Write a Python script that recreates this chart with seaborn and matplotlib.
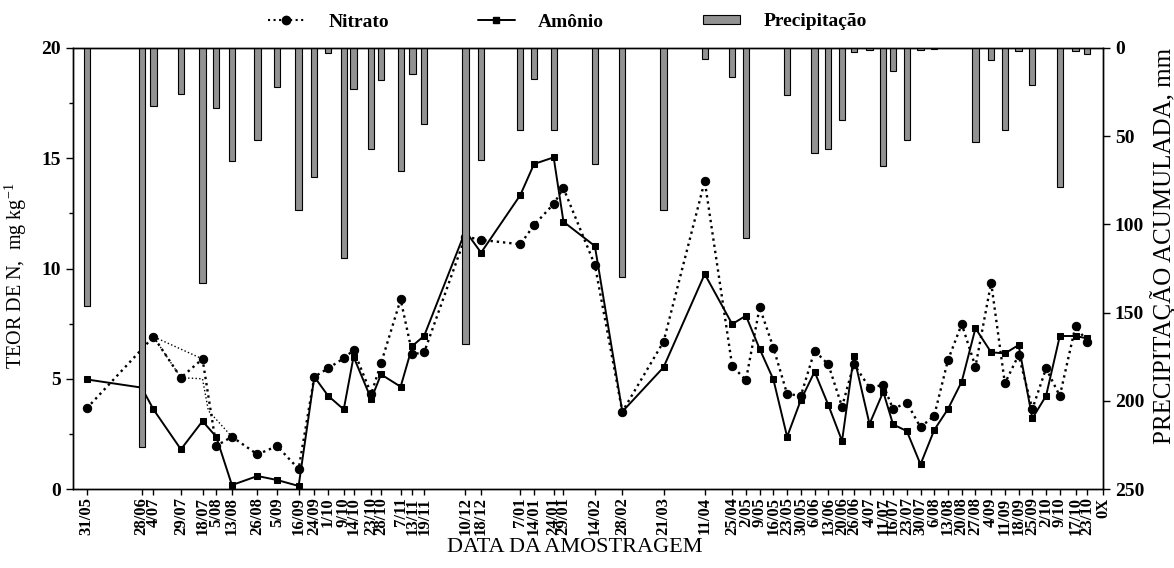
import pandas as pd
import matplotlib
matplotlib.use('Agg')
import matplotlib.pyplot as plt
from matplotlib.lines import Line2D
from matplotlib.patches import Patch
from matplotlib.ticker import MultipleLocator
import seaborn as sns

# datas de amostragem
datas = ['31/05/2006', '28/06/2006', '04/07/2006', '18/07/2006', '29/07/2006', '05/08/2006',
         '13/08/2006', '26/08/2006', '05/09/2006', '16/09/2006', '24/09/2006', '01/10/2006',
         '09/10/2006', '14/10/2006', '23/10/2006', '28/10/2006', '07/11/2006', '13/11/2006',
         '19/11/2006', '10/12/2006', '18/12/2006', '07/01/2007', '14/01/2007', '24/01/2007',
         '29/01/2007', '14/02/2007', '28/02/2007', '21/03/2007', '11/04/2007', '25/04/2007',
         '02/05/2007', '09/05/2007', '16/05/2007', '23/05/2007', '30/05/2007', '06/06/2007',
         '13/06/2007', '20/06/2007', '26/06/2007', '04/07/2007', '11/07/2007', '16/07/2007',
         '23/07/2007', '30/07/2007', '06/08/2007', '13/08/2007', '20/08/2007', '27/08/2007',
         '04/09/2007', '11/09/2007', '18/09/2007', '25/09/2007', '02/10/2007', '09/10/2007',
         '17/10/2007', '23/10/2007']

# rotulos como aparecem no grafico (29/07 e 18/07 trocados no original)
rotulos = ['31/05', '28/06', '4/07', '29/07', '18/07', '5/08', '13/08', '26/08', '5/09', '16/09',
           '24/09', '1/10', '9/10', '14/10', '23/10', '28/10', '7/11', '13/11', '19/11', '10/12',
           '18/12', '7/01', '14/01', '24/01', '29/01', '14/02', '28/02', '21/03', '11/04', '25/04',
           '2/05', '9/05', '16/05', '23/05', '30/05', '6/06', '13/06', '20/06', '26/06', '4/07',
           '11/07', '16/07', '23/07', '30/07', '6/08', '13/08', '20/08', '27/08', '4/09', '11/09',
           '18/09', '25/09', '2/10', '9/10', '17/10', '23/10', '0X']
data_final = '31/10/2007'

nitrato = [3.66, None, 6.91, 5.05, 5.90, 1.96, 2.37, 1.57, 1.95, 0.91, 5.09, 5.47, 5.93, 6.30,
           4.31, 5.70, 8.60, 6.11, 6.20, 11.45, 11.30, 11.10, 11.97, 12.93, 13.64, 10.16, 3.51,
           6.68, 13.97, 5.58, 4.94, 8.24, 6.41, 4.31, 4.23, 6.27, 5.65, 3.73, 5.67, 4.60, 4.72,
           3.63, 3.92, 2.80, 3.33, 5.85, 7.48, 5.55, 9.36, 4.79, 6.08, 3.63, 5.47, 4.22, 7.39, 6.68]

amonio = [4.97, 4.60, 3.61, 1.80, 3.08, 2.37, 0.18, 0.59, 0.41, 0.14, 5.09, 4.23, 3.61, 6.00,
          4.08, 5.20, 4.64, 6.49, 6.95, 11.70, 10.72, 13.33, 14.74, 15.04, 12.12, 11.02, 3.51,
          5.52, 9.75, 7.48, 7.86, 6.35, 4.97, 2.37, 4.04, 5.32, 3.81, 2.18, 6.03, 2.95, 4.41,
          2.93, 2.63, 1.12, 2.68, 3.63, 4.87, 7.29, 6.20, 6.15, 6.53, 3.20, 4.23, 6.94, 6.94, 6.83]

precipitacao = [146, 226, 33, 26, 133, 34, 64, 52, 22, 92, 73, 3, 119, 23, 57, 18, 70, 15, 43,
                168, 63.5, 46.5, 17.6, 46.5, 0, 66, 130, 92, 6.4, 16.6, 107.7, 0, 0, 26.6, 0,
                59.6, 57.3, 40.8, 2.5, 1, 67, 13, 52, 1, 0.5, 0, 0, 53.5, 6.8, 46.5, 1.5, 21, 0,
                79, 1.5, 3.4]

# traco pontilhado extra de nitrato (jul-ago 2006)
nitrato_extra_datas = ['29/07/2006', '04/07/2006', '18/07/2006', '29/07/2006', '01/08/2006', '13/08/2006']
nitrato_extra = [5.90, 6.91, 5.05, 5.00, 3.55, 2.37]

origem = pd.Timestamp('2006-05-31')


def dias(lista):
    return (pd.to_datetime(lista, dayfirst=True) - origem).days


df = pd.DataFrame({'dia': dias(datas), 'nitrato': nitrato, 'amonio': amonio,
                   'chuva': precipitacao})
df['nitrato'] = df['nitrato'].astype(float)

sns.set_style('ticks', {'axes.edgecolor': 'black', 'xtick.color': 'black', 'ytick.color': 'black',
                        'axes.labelcolor': 'black', 'text.color': 'black'})
plt.rcParams['font.family'] = ['Liberation Serif', 'DejaVu Serif']
plt.rcParams['mathtext.fontset'] = 'custom'
plt.rcParams['mathtext.rm'] = 'Liberation Serif'

fig, ax = plt.subplots(figsize=(11.74, 5.68), dpi=100)
fig.subplots_adjust(left=0.0622, right=0.9395, top=0.9155, bottom=0.139)
ax2 = ax.twinx()

# linhas
sns.lineplot(x=dias(nitrato_extra_datas), y=nitrato_extra, ax=ax, sort=False, estimator=None,
             color='black', linestyle=':', lw=1.0)
nit = df.dropna(subset=['nitrato'])
sns.lineplot(data=nit, x='dia', y='nitrato', ax=ax, estimator=None, color='black',
             linestyle=':', lw=1.7, marker='o', markersize=6, markeredgecolor='black')
sns.lineplot(data=df, x='dia', y='amonio', ax=ax, estimator=None, color='black',
             lw=1.4, marker='s', markersize=5, markeredgecolor='black')

# barras de precipitacao (eixo invertido)
chuva = df[df['chuva'] > 0]
sns.barplot(data=chuva, x='dia', y='chuva', ax=ax2, native_scale=True, color='#929292',
            saturation=1, edgecolor='black', linewidth=0.8, width=0.64)

xfim = dias([data_final])[0]
ax.set_xlim(-7, xfim)
ax2.set_xlim(-7, xfim)
ax.set_ylim(0, 20)
ax2.set_ylim(250, 0)

ax.set_xticks(list(df['dia']) + [xfim])
ax.set_xticklabels(rotulos, rotation=90, fontweight='bold', fontsize=12)
ax.set_yticks([0, 5, 10, 15, 20])
ax.yaxis.set_minor_locator(MultipleLocator(2.5))
ax2.set_yticks([0, 50, 100, 150, 200, 250])
for lab in ax.get_yticklabels() + ax2.get_yticklabels():
    lab.set_fontweight('bold')
    lab.set_fontsize(14)
ax.tick_params(axis='both', which='both', direction='out', width=1)
ax.tick_params(axis='x', length=4, pad=2)
ax.tick_params(axis='y', which='major', length=5)
ax.tick_params(axis='y', which='minor', length=3)
ax2.tick_params(axis='y', direction='out', length=5, width=1)

for a in (ax, ax2):
    for s in a.spines.values():
        s.set_linewidth(1.0)
        s.set_color('black')

ax.set_xlabel('DATA DA AMOSTRAGEM', fontsize=16)
ax.set_ylabel(r'TEOR DE N,  mg kg$^{\mathregular{-1}}$', fontsize=14.5)
ax2.set_ylabel('PRECIPITAÇÃO ACUMULADA, mm', fontsize=18)
ax.xaxis.set_label_coords(0.487, -0.112)
ax.yaxis.set_label_coords(-0.043, 0.483)
ax2.yaxis.set_label_coords(1.046, 0.551)

# legenda
h_nit = Line2D([], [], color='black', linestyle=':', lw=1.5, marker='o', markersize=6)
h_amo = Line2D([], [], color='black', lw=1.4, marker='s', markersize=5)
h_pre = Patch(facecolor='#929292', edgecolor='black', linewidth=0.8)
prop = {'weight': 'bold', 'size': 14}
for h, t, xpos, hh in [(h_nit, 'Nitrato', 268, 0.7), (h_amo, 'Amônio', 478, 0.7),
                       (h_pre, 'Precipitação', 703, 0.4)]:
    fig.legend([h], [t], loc='center left', bbox_to_anchor=(xpos / 1174, 1 - 22 / 568),
               frameon=False, prop=prop, borderpad=0, borderaxespad=0, handlelength=1.9,
               handleheight=hh, handletextpad=1.2, numpoints=1)

fig.savefig('out.png', dpi=100)
